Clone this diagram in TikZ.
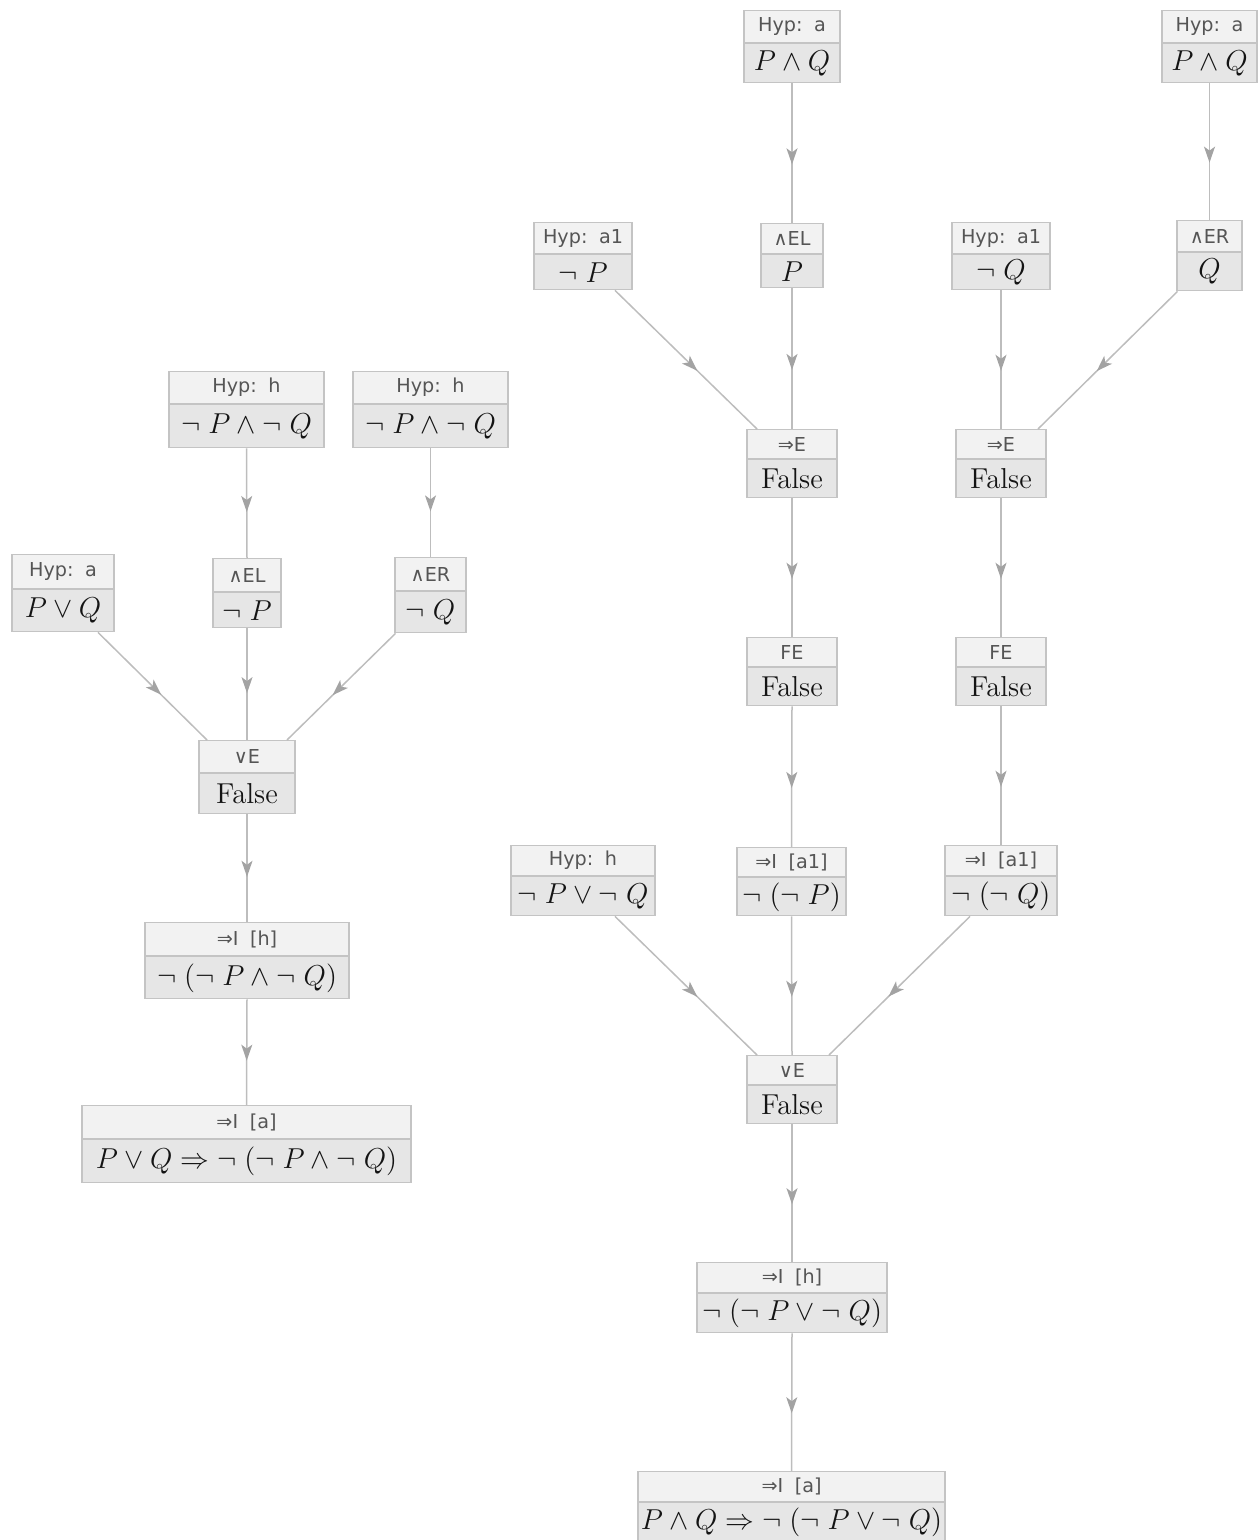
\documentclass[tikz,border=0pt]{standalone}
\usepackage{fontspec}
\newfontfamily\labfont{DejaVu Sans}
\usetikzlibrary{arrows.meta,decorations.markings}
\definecolor{bordc}{HTML}{C4C4C4}
\definecolor{topc}{HTML}{F2F2F2}
\definecolor{botc}{HTML}{E6E6E6}
\definecolor{labc}{HTML}{555555}
\definecolor{frmc}{HTML}{141414}
\definecolor{edgec}{HTML}{BDBDBD}
\definecolor{tipc}{HTML}{A3A3A3}
\newcommand\nt{\neg\;}
\newcommand\gp{\hspace{0.6em}}
\tikzset{
 labbox/.style={draw=bordc, fill=topc, line width=0.6pt, inner sep=0pt, font=\labfont\fontsize{9.6}{10}\selectfont, text=labc},
 frmbox/.style={draw=bordc, fill=botc, line width=0.6pt, inner sep=0pt, font=\fontsize{14.4}{16}\selectfont, text=frmc},
 conn/.style={draw=edgec, line width=0.75pt, postaction={decorate},
   decoration={markings, mark=at position 0.58 with {\arrow{Stealth[length=8pt,width=5.5pt,inset=2pt,color=tipc]}}}},
}
\newcommand\pnode[8]{%
 \node[labbox, minimum width=#4*0.5pt, minimum height=#5*0.5pt, anchor=north] (#1t) at (#2,#3) {#7};
 \node[frmbox, minimum width=#4*0.5pt, minimum height=#6*0.5pt, anchor=north] (#1) at (#1t.south) {#8};
}
\begin{document}
\begin{tikzpicture}[x=0.5pt,y=-0.5pt]
\useasboundingbox (0,0) rectangle (1259,1540);
% right tree
\pnode{A1}{792}{10}{96}{32}{39}{Hyp:\gp a}{$P\land Q$}
\pnode{A2}{1209.5}{10}{95}{32}{39}{Hyp:\gp a}{$P\land Q$}
\pnode{B1}{583}{222}{98}{31}{35}{Hyp:\gp a1}{$\nt P$}
\pnode{B2}{792}{223}{62}{30}{33}{∧EL}{$P$}
\pnode{B3}{1001}{222}{98}{31}{35}{Hyp:\gp a1}{$\nt Q$}
\pnode{B4}{1209.5}{220}{65}{31}{38}{∧ER}{$Q$}
\pnode{C1}{792}{429}{90}{29}{38}{⇒E}{False}
\pnode{C2}{1001}{429}{90}{29}{38}{⇒E}{False}
\pnode{D1}{792}{637}{90}{29}{38}{FE}{False}
\pnode{D2}{1001}{637}{90}{29}{38}{FE}{False}
\pnode{E0}{583}{845}{144}{30}{39}{Hyp:\gp h}{$\nt P\lor\nt Q$}
\pnode{E1}{791.5}{847}{109}{29}{38}{⇒I\gp[a1]}{$\nt(\nt P)$}
\pnode{E2}{1001}{845}{112}{30}{39}{⇒I\gp[a1]}{$\nt(\nt Q)$}
\pnode{F}{792}{1055}{90}{29}{38}{∨E}{False}
\pnode{G}{792}{1262}{190}{30}{39}{⇒I\gp[h]}{$\nt(\nt P\lor\nt Q)$}
\pnode{H}{791.5}{1471}{307}{30}{39}{⇒I\gp[a]}{$P\land Q\Rightarrow\nt(\nt P\lor\nt Q)$}
% left tree
\pnode{L1}{246.5}{371}{155}{32}{43}{Hyp:\gp h}{$\nt P\land\nt Q$}
\pnode{L2}{430.5}{371}{155}{32}{43}{Hyp:\gp h}{$\nt P\land\nt Q$}
\pnode{L3}{63}{554}{102}{34}{42}{Hyp:\gp a}{$P\lor Q$}
\pnode{L4}{247}{558}{68}{33}{35}{∧EL}{$\nt P$}
\pnode{L5}{430.5}{557}{71}{33}{41}{∧ER}{$\nt Q$}
\pnode{L6}{247}{740}{96}{32}{40}{∨E}{False}
\pnode{L7}{247}{922}{204}{33}{42}{⇒I\gp[h]}{$\nt(\nt P\land\nt Q)$}
\pnode{L8}{246.5}{1105}{329}{33}{43}{⇒I\gp[a]}{$P\lor Q\Rightarrow\nt(\nt P\land\nt Q)$}
% connectors right
\draw[conn] (A1.south) -- (B2t.north);
\draw[conn] (A2.south) -- (B4t.north);
\draw[conn] ([xshift=16pt]B1.south) -- ([xshift=-17.5pt]C1t.north);
\draw[conn] (B2.south) -- (C1t.north);
\draw[conn] (B3.south) -- (C2t.north);
\draw[conn] ([xshift=-16pt]B4.south) -- ([xshift=18.5pt]C2t.north);
\draw[conn] (C1.south) -- (D1t.north);
\draw[conn] (C2.south) -- (D2t.north);
\draw[conn] (D1.south) -- (E1t.north);
\draw[conn] (D2.south) -- (E2t.north);
\draw[conn] ([xshift=16pt]E0.south) -- ([xshift=-17.5pt]Ft.north);
\draw[conn] (E1.south) -- (Ft.north);
\draw[conn] ([xshift=-15.5pt]E2.south) -- ([xshift=18.5pt]Ft.north);
\draw[conn] (F.south) -- (Gt.north);
\draw[conn] (G.south) -- (Ht.north);
% connectors left
\draw[conn] (L1.south) -- (L4t.north);
\draw[conn] (L2.south) -- (L5t.north);
\draw[conn] ([xshift=17.5pt]L3.south) -- ([xshift=-20pt]L6t.north);
\draw[conn] (L4.south) -- (L6t.north);
\draw[conn] ([xshift=-17.5pt]L5.south) -- ([xshift=20pt]L6t.north);
\draw[conn] (L6.south) -- (L7t.north);
\draw[conn] (L7.south) -- (L8t.north);
\end{tikzpicture}
\end{document}
